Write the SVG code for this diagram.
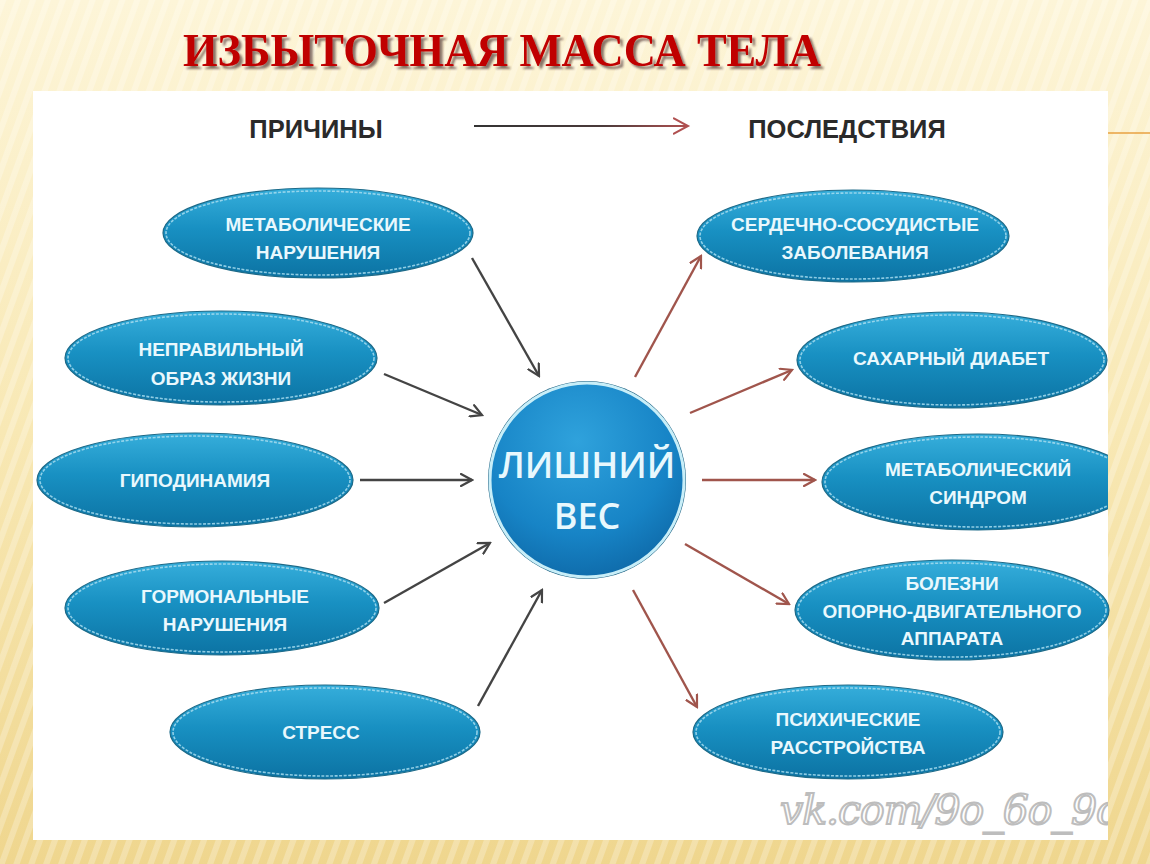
<svg xmlns="http://www.w3.org/2000/svg" width="1150" height="864" viewBox="0 0 1150 864">
<defs>
<linearGradient id="bg" x1="0" y1="0" x2="0" y2="1">
<stop offset="0" stop-color="#fdf5d8"/>
<stop offset="0.5" stop-color="#f8e8b4"/>
<stop offset="1" stop-color="#efd68e"/>
</linearGradient>
<pattern id="stripes" width="14" height="40" patternUnits="userSpaceOnUse" patternTransform="rotate(20)">
<rect width="6" height="40" fill="#ffffff" opacity="0.25"/>
</pattern>
<linearGradient id="ell" x1="0" y1="0" x2="0" y2="1">
<stop offset="0" stop-color="#36aedb"/>
<stop offset="0.45" stop-color="#1890c2"/>
<stop offset="1" stop-color="#0c73a3"/>
</linearGradient>
<radialGradient id="circ" cx="0.45" cy="0.3" r="0.8">
<stop offset="0" stop-color="#2fa2dc"/>
<stop offset="0.6" stop-color="#1784c6"/>
<stop offset="1" stop-color="#0c62a0"/>
</radialGradient>
<linearGradient id="topArrow" gradientUnits="userSpaceOnUse" x1="474" y1="0" x2="688" y2="0">
<stop offset="0" stop-color="#333"/>
<stop offset="0.6" stop-color="#4a3a3a"/>
<stop offset="1" stop-color="#b05050"/>
</linearGradient>
<filter id="shadow" x="-5%" y="-20%" width="110%" height="150%">
<feDropShadow dx="3" dy="3" stdDeviation="0.8" flood-color="#3a1a1a" flood-opacity="0.6"/>
</filter>
<marker id="ah" viewBox="0 0 14 14" refX="12" refY="7" markerWidth="14" markerHeight="14" markerUnits="userSpaceOnUse" orient="auto">
<path d="M1,1 L12,7 L1,13" fill="none" stroke="#444" stroke-width="2.2" stroke-linecap="round"/>
</marker>
<marker id="ahr" viewBox="0 0 14 14" refX="12" refY="7" markerWidth="14" markerHeight="14" markerUnits="userSpaceOnUse" orient="auto">
<path d="M1,1 L12,7 L1,13" fill="none" stroke="#a0554c" stroke-width="2.2" stroke-linecap="round"/>
</marker>
<marker id="aht" viewBox="0 0 14 14" refX="12" refY="7" markerWidth="18" markerHeight="18" markerUnits="userSpaceOnUse" orient="auto">
<path d="M1,1 L12,7 L1,13" fill="none" stroke="#b05050" stroke-width="1.6" stroke-linecap="round"/>
</marker>
<clipPath id="panelClip"><rect x="33" y="91" width="1075" height="749"/></clipPath>
<style>
.node ellipse.f{fill:url(#ell);stroke:#1d6a88;stroke-width:1.2}
.node ellipse.r{fill:none;stroke:#a6dcee;stroke-width:1.6;stroke-dasharray:3 1.5;opacity:0.85}
.lbl{font-family:"Liberation Sans",Arial,sans-serif;font-weight:bold;font-size:19px;fill:#e9f8fd;text-anchor:middle}
.hdr{font-family:"Liberation Sans",Arial,sans-serif;font-weight:bold;font-size:25.5px;fill:#2a2a2a;text-anchor:middle}
.ca{stroke:#444;stroke-width:2.4;fill:none;marker-end:url(#ah)}
.ea{stroke:#a0554c;stroke-width:2.4;fill:none;marker-end:url(#ahr)}
</style>
</defs>
<rect width="1150" height="864" fill="url(#bg)"/>
<rect width="1150" height="864" fill="url(#stripes)"/>
<line x1="1108" y1="133" x2="1150" y2="133" stroke="#e8a040" stroke-width="1.5"/>
<g id="title">
<text x="183" y="66" font-family="'Liberation Serif','Times New Roman',serif" font-weight="bold" font-size="46" fill="#c00000" textLength="638" lengthAdjust="spacingAndGlyphs" filter="url(#shadow)">ИЗБЫТОЧНАЯ МАССА ТЕЛА</text>
</g>
<rect id="panel" x="33" y="91" width="1075" height="749" fill="#ffffff"/>
<g id="headers">
<text class="hdr" x="316" y="138">ПРИЧИНЫ</text>
<text class="hdr" x="847" y="138">ПОСЛЕДСТВИЯ</text>
<line x1="474" y1="126" x2="688" y2="126" stroke="url(#topArrow)" stroke-width="2" marker-end="url(#aht)"/>
</g>
<g id="connectors">
<line class="ca" x1="472" y1="258" x2="539" y2="376"/>
<line class="ca" x1="384" y1="374" x2="482" y2="415"/>
<line class="ca" x1="360" y1="480" x2="472" y2="480"/>
<line class="ca" x1="384" y1="603" x2="490" y2="543"/>
<line class="ca" x1="478" y1="706" x2="542" y2="590"/>
<line class="ea" x1="635" y1="377" x2="701" y2="256"/>
<line class="ea" x1="690" y1="413" x2="792" y2="370"/>
<line class="ea" x1="702" y1="480" x2="815" y2="480"/>
<line class="ea" x1="685" y1="544" x2="789" y2="604"/>
<line class="ea" x1="633" y1="590" x2="697" y2="707"/>
</g>
<g id="center">
<circle cx="587" cy="480" r="99" fill="#1a5f80"/>
<circle cx="587" cy="480" r="97" fill="url(#circ)" stroke="#c8eef8" stroke-width="3"/>
<text x="587" y="478" font-family="'Open Sans','Liberation Sans',sans-serif" font-weight="600" font-size="36" fill="#e8f8fd" text-anchor="middle">ЛИШНИЙ</text>
<text x="587" y="529" font-family="'Open Sans','Liberation Sans',sans-serif" font-weight="600" font-size="36" fill="#e8f8fd" text-anchor="middle">ВЕС</text>
</g>
<g id="n-metab" class="node">
<ellipse class="f" cx="318" cy="233" rx="155" ry="45"/><ellipse class="r" cx="318" cy="233" rx="152" ry="42"/>
<text class="lbl" x="318" y="231">МЕТАБОЛИЧЕСКИЕ</text><text class="lbl" x="318" y="259">НАРУШЕНИЯ</text>
</g>
<g id="n-life" class="node">
<ellipse class="f" cx="221" cy="358" rx="156" ry="47"/><ellipse class="r" cx="221" cy="358" rx="153" ry="44"/>
<text class="lbl" x="221" y="356">НЕПРАВИЛЬНЫЙ</text><text class="lbl" x="221" y="385">ОБРАЗ ЖИЗНИ</text>
</g>
<g id="n-hypo" class="node">
<ellipse class="f" cx="195" cy="480" rx="158" ry="47"/><ellipse class="r" cx="195" cy="480" rx="155" ry="44"/>
<text class="lbl" x="195" y="487">ГИПОДИНАМИЯ</text>
</g>
<g id="n-horm" class="node">
<ellipse class="f" cx="222" cy="608" rx="157" ry="47"/><ellipse class="r" cx="222" cy="608" rx="154" ry="44"/>
<text class="lbl" x="225" y="603">ГОРМОНАЛЬНЫЕ</text><text class="lbl" x="225" y="631">НАРУШЕНИЯ</text>
</g>
<g id="n-stress" class="node">
<ellipse class="f" cx="325" cy="732" rx="155" ry="47"/><ellipse class="r" cx="325" cy="732" rx="152" ry="44"/>
<text class="lbl" x="321" y="739">СТРЕСС</text>
</g>
<g id="n-cardio" class="node">
<ellipse class="f" cx="853" cy="236" rx="156" ry="46"/><ellipse class="r" cx="853" cy="236" rx="153" ry="43"/>
<text class="lbl" x="855" y="231">СЕРДЕЧНО-СОСУДИСТЫЕ</text><text class="lbl" x="855" y="259">ЗАБОЛЕВАНИЯ</text>
</g>
<g id="n-diab" class="node">
<ellipse class="f" cx="952" cy="360" rx="155" ry="48"/><ellipse class="r" cx="952" cy="360" rx="152" ry="45"/>
<text class="lbl" x="951" y="365">САХАРНЫЙ ДИАБЕТ</text>
</g>
<g id="n-msyn" class="node" clip-path="url(#panelClip)">
<ellipse class="f" cx="978" cy="482" rx="156" ry="48"/><ellipse class="r" cx="978" cy="482" rx="153" ry="45"/>
<text class="lbl" x="978" y="476">МЕТАБОЛИЧЕСКИЙ</text><text class="lbl" x="978" y="504">СИНДРОМ</text>
</g>
<g id="n-musc" class="node">
<ellipse class="f" cx="952" cy="610" rx="157" ry="50"/><ellipse class="r" cx="952" cy="610" rx="154" ry="47"/>
<text class="lbl" x="952" y="590">БОЛЕЗНИ</text><text class="lbl" x="952" y="618">ОПОРНО-ДВИГАТЕЛЬНОГО</text><text class="lbl" x="952" y="645">АППАРАТА</text>
</g>
<g id="n-psych" class="node">
<ellipse class="f" cx="848" cy="732" rx="155" ry="47"/><ellipse class="r" cx="848" cy="732" rx="152" ry="44"/>
<text class="lbl" x="848" y="726">ПСИХИЧЕСКИЕ</text><text class="lbl" x="848" y="754">РАССТРОЙСТВА</text>
</g>
<g id="watermark" clip-path="url(#panelClip)">
<text x="780" y="824" font-family="'DejaVu Serif','Liberation Serif',serif" font-style="italic" font-size="41" fill="#ffffff" stroke="#bdbdbd" stroke-width="2" letter-spacing="-1">vk.com/9o_6o_9o</text>
</g>
</svg>
